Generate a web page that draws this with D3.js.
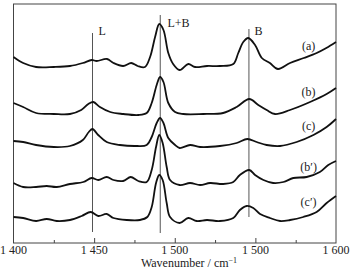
<!DOCTYPE html>
<html>
<head>
<meta charset="utf-8">
<script src="https://cdn.jsdelivr.net/npm/d3@7"></script>
<style>
  body { margin: 0; background: #fff; }
  svg { display: block; font-family: "Liberation Serif", "DejaVu Serif", serif; }
</style>
</head>
<body>
<svg id="chart" width="355" height="272"></svg>
<script>
// spectra: [wavenumber, absorbance (a.u., offset)]
const spectrumA = [
  [1400, 1.86], [1406, 1.80], [1414, 1.76], [1425, 1.76], [1435, 1.77], [1443, 1.80],
  [1448.5, 1.83], [1451.6, 1.82], [1458, 1.84], [1462, 1.80], [1468, 1.77], [1473, 1.80],
  [1477, 1.77], [1481.5, 1.76], [1484.7, 1.86], [1487.8, 2.06], [1490.4, 2.19], [1493, 2.13],
  [1496, 1.90], [1499, 1.79], [1503, 1.73], [1508.4, 1.79], [1512.6, 1.76], [1520, 1.77],
  [1528, 1.77], [1536.3, 1.79], [1539.4, 1.90], [1542.5, 2.01], [1545.6, 2.05], [1549.8, 1.98],
  [1554, 1.85], [1559, 1.80], [1564, 1.74], [1571.5, 1.80], [1580, 1.85], [1588, 1.90],
  [1594, 1.95], [1600, 2.01]
];
const spectrumB = [
  [1400, 1.40], [1406, 1.36], [1414, 1.30], [1425, 1.29], [1435, 1.29], [1442, 1.33],
  [1446.4, 1.39], [1449.5, 1.41], [1453.6, 1.36], [1460, 1.31], [1468, 1.29], [1477.4, 1.28],
  [1482.6, 1.30], [1485.7, 1.40], [1488.8, 1.58], [1490.9, 1.66], [1493, 1.61], [1496, 1.40],
  [1500.2, 1.31], [1505.3, 1.29], [1517.7, 1.29], [1530, 1.30], [1538.4, 1.36], [1546.2, 1.44],
  [1551.8, 1.38], [1557, 1.33], [1562.2, 1.29], [1571.5, 1.33], [1583.9, 1.41], [1594.2, 1.49],
  [1600, 1.55]
];
const spectrumC = [
  [1400, 1.02], [1406, 1.01], [1414, 0.98], [1425, 0.96], [1435, 0.97], [1443, 1.03],
  [1446.7, 1.11], [1449, 1.14], [1452.5, 1.08], [1457.8, 1.01], [1466, 0.98], [1476.4, 0.97],
  [1482.6, 0.98], [1485.7, 1.06], [1488.8, 1.20], [1490.9, 1.25], [1493, 1.20], [1496, 1.05],
  [1500.2, 0.98], [1503, 0.95], [1509.5, 0.98], [1515.7, 0.96], [1528, 0.97], [1538.4, 1.00],
  [1545, 1.04], [1550.8, 1.01], [1557, 0.98], [1565.3, 0.97], [1575.6, 1.01], [1586, 1.08],
  [1594.2, 1.16], [1600, 1.24]
];
const spectrumB2 = [
  [1400, 0.60], [1406, 0.56], [1414, 0.56], [1420.6, 0.57], [1426.8, 0.56], [1435, 0.59],
  [1443.3, 0.61], [1448.5, 0.65], [1452.6, 0.63], [1457.8, 0.66], [1462, 0.63], [1468, 0.62],
  [1472.7, 0.66], [1477.4, 0.62], [1482.6, 0.61], [1485.7, 0.73], [1488.4, 0.96], [1490.4, 1.08],
  [1492.5, 1.00], [1495, 0.76], [1497.1, 0.63], [1503, 0.58], [1509.5, 0.60], [1515.7, 0.58],
  [1521.9, 0.60], [1530, 0.59], [1536.3, 0.61], [1540.4, 0.68], [1546.2, 0.73], [1549.8, 0.68],
  [1555, 0.63], [1561, 0.60], [1567.4, 0.61], [1573.5, 0.65], [1581.8, 0.66], [1590, 0.71],
  [1595.2, 0.78], [1600, 0.82]
];
const spectrumC2 = [
  [1400, 0.26], [1406, 0.25], [1414, 0.22], [1420.6, 0.24], [1426.8, 0.22], [1435, 0.23],
  [1442.3, 0.27], [1447.9, 0.31], [1452.6, 0.27], [1457.8, 0.29], [1462, 0.25], [1470.2, 0.23],
  [1478.4, 0.23], [1483, 0.26], [1485.7, 0.36], [1488.4, 0.60], [1490.4, 0.68], [1492.5, 0.63],
  [1495, 0.40], [1497.1, 0.26], [1503, 0.20], [1508.4, 0.25], [1513.6, 0.22], [1520, 0.23],
  [1528, 0.22], [1536.3, 0.25], [1540.4, 0.33], [1544.6, 0.37], [1548.7, 0.35], [1552.9, 0.29],
  [1559, 0.25], [1565.3, 0.22], [1571.5, 0.23], [1579.7, 0.26], [1588, 0.31], [1594.2, 0.40],
  [1600, 0.47]
];

const seriesNames = ["(a)", "(b)", "(c)", "(b′)", "(c′)"];
const seriesData = [spectrumA, spectrumB, spectrumC, spectrumB2, spectrumC2];
const labelPos = [[1583, 1.93], [1583, 1.47], [1583, 1.13], [1583, 0.72], [1583, 0.37]];

// band markers: wavenumber, label, line top, line bottom
const bandPos = [1449, 1491, 1546];
const bandNames = ["L", "L+B", "B"];
const bandTop = [2.10, 2.28, 2.14];
const bandBottom = [0.11, 0.10, 0.26];
const bandLabelPos = [[1455, 2.08], [1495.5, 2.16], [1552, 2.08]];

const majorTicks = [1400, 1450, 1500, 1550, 1600];
const tickLabels = ["1 400", "1 450", "1 500", "1 500", "1 600"];
const minorTicks = [1425, 1475, 1525, 1575];

const svg = d3.select("#chart");
const plotLeft = 13.5, plotRight = 336, plotTop = 4, plotBottom = 243;

const x = d3.scaleLinear().domain([1400, 1600]).range([plotLeft, plotRight]);
const y = d3.scaleLinear().domain([0, 2.39]).range([plotBottom, plotTop]);

// frame
svg.append("rect")
  .attr("x", plotLeft).attr("y", plotTop)
  .attr("width", plotRight - plotLeft).attr("height", plotBottom - plotTop)
  .attr("fill", "none").attr("stroke", "#444").attr("stroke-width", 1);

// bottom axis with inward ticks
svg.append("g")
  .attr("transform", `translate(0,${plotBottom})`)
  .call(d3.axisBottom(x).tickValues(majorTicks.slice(1, -1)).tickSize(-5).tickFormat(""))
  .call((g) => g.select(".domain").remove())
  .call((g) => g.selectAll("line").attr("stroke", "#444"));
svg.append("g")
  .attr("transform", `translate(0,${plotBottom})`)
  .call(d3.axisBottom(x).tickValues(minorTicks).tickSize(-3).tickFormat(""))
  .call((g) => g.select(".domain").remove())
  .call((g) => g.selectAll("line").attr("stroke", "#444"));

svg.append("g")
  .selectAll("text")
  .data(majorTicks)
  .join("text")
  .attr("x", (d) => x(d))
  .attr("y", 254)
  .attr("text-anchor", "middle")
  .style("font-size", "12px")
  .attr("fill", "#222")
  .text((d, i) => tickLabels[i]);

const title = svg.append("text")
  .attr("x", 189)
  .attr("y", 267)
  .attr("text-anchor", "middle")
  .style("font-size", "12px")
  .attr("fill", "#222");
title.append("tspan").text("Wavenumber / cm");
title.append("tspan").attr("dy", -4).style("font-size", "8px").text("−1");

// band marker lines
svg.append("g")
  .selectAll("line")
  .data(bandPos)
  .join("line")
  .attr("x1", (d) => x(d)).attr("x2", (d) => x(d))
  .attr("y1", (d, i) => y(bandTop[i]))
  .attr("y2", (d, i) => y(bandBottom[i]))
  .attr("stroke", "#555")
  .attr("stroke-width", 1);

svg.append("g")
  .selectAll("text")
  .data(bandNames)
  .join("text")
  .attr("x", (d, i) => x(bandLabelPos[i][0]))
  .attr("y", (d, i) => y(bandLabelPos[i][1]))
  .attr("text-anchor", (d, i) => (i === 1 ? "start" : "middle"))
  .style("font-size", "12px")
  .attr("fill", "#222")
  .text((d) => d);

// spectra
const line = d3.line()
  .x((d) => x(d[0]))
  .y((d) => y(d[1]))
  .curve(d3.curveCatmullRom.alpha(0.5));

svg.append("g")
  .selectAll("path")
  .data(seriesData)
  .join("path")
  .attr("fill", "none")
  .attr("stroke", "#111")
  .attr("stroke-width", 1.8)
  .attr("stroke-linejoin", "round")
  .attr("d", line);

svg.append("g")
  .selectAll("text")
  .data(seriesNames)
  .join("text")
  .attr("x", (d, i) => x(labelPos[i][0]))
  .attr("y", (d, i) => y(labelPos[i][1]))
  .attr("text-anchor", "middle")
  .style("font-size", "12px")
  .attr("fill", "#222")
  .text((d) => d);
</script>
</body>
</html>
